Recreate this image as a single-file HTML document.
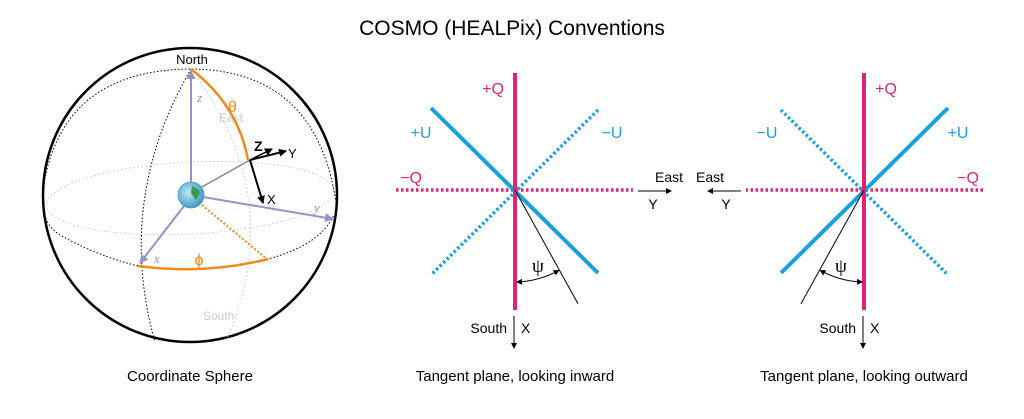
<!DOCTYPE html>
<html><head><meta charset="utf-8"><style>
body{margin:0;background:#fff;}
svg{display:block;font-family:"Liberation Sans",sans-serif;}
</style></head><body>
<svg width="1024" height="419" viewBox="0 0 1024 419">
<defs>
<marker id="ah" markerWidth="8" markerHeight="8" refX="7" refY="4" orient="auto" markerUnits="userSpaceOnUse"><path d="M0,0 L8,4 L0,8 z" fill="#000"/></marker>
<marker id="ahp" markerWidth="9" markerHeight="9" refX="8" refY="4.5" orient="auto" markerUnits="userSpaceOnUse"><path d="M0,0 L9,4.5 L0,9 z" fill="#9b8fc6"/></marker>
<marker id="ahs" markerWidth="6" markerHeight="6" refX="5" refY="3" orient="auto-start-reverse" markerUnits="userSpaceOnUse"><path d="M0,0 L6,3 L0,6 z" fill="#000"/></marker>
<radialGradient id="earth" cx="0.4" cy="0.4" r="0.7"><stop offset="0" stop-color="#bfe8f5"/><stop offset="1" stop-color="#2d8fc0"/></radialGradient>
</defs>
<text x="512" y="35" text-anchor="middle" font-size="21">COSMO (HEALPix) Conventions</text>

<g>
<circle cx="190" cy="195" r="147" fill="none" stroke="#000" stroke-width="2.5"/>
<ellipse cx="190" cy="198" rx="144" ry="36" fill="none" stroke="#bbb" stroke-width="0.8" stroke-dasharray="1.5,2.5" transform="rotate(-3 190 198)"/>
<path d="M191,69 Q115,200 155,342" fill="none" stroke="#000" stroke-width="1" stroke-dasharray="1.5,2"/>
<path d="M191,69 Q290,200 225,343" fill="none" stroke="#bbb" stroke-width="0.8" stroke-dasharray="1.5,2.5"/>
<path d="M43,190 Q60,70 191,69 Q320,70 337,210" fill="none" stroke="#000" stroke-width="1" stroke-dasharray="1.5,2"/>
<path d="M138,266 Q205,275 268,259 Q320,245 334,215" fill="none" stroke="#000" stroke-width="1" stroke-dasharray="1.5,2"/>
<path d="M138,266 Q95,255 60,235 Q44,225 43,205" fill="none" stroke="#000" stroke-width="1" stroke-dasharray="1.5,2"/>
<text x="192" y="64" text-anchor="middle" font-size="13">North</text>
<text x="219" y="122" font-size="12" fill="#ccc">East</text>
<text x="203" y="320" font-size="12" fill="#ccc">South</text>
<line x1="191" y1="185" x2="191" y2="71" stroke="#9b8fc6" stroke-width="2" marker-end="url(#ahp)"/>
<line x1="203" y1="197" x2="333" y2="219" stroke="#9b8fc6" stroke-width="2" marker-end="url(#ahp)"/>
<line x1="184" y1="206" x2="140" y2="263" stroke="#9b8fc6" stroke-width="2" marker-end="url(#ahp)"/>
<text x="197" y="102" font-size="13" font-style="italic" font-family="Liberation Serif,serif" fill="#9b8fc6">z</text>
<text x="314" y="212" font-size="13" font-style="italic" font-family="Liberation Serif,serif" fill="#9b8fc6">y</text>
<text x="154" y="263" font-size="13" font-style="italic" font-family="Liberation Serif,serif" fill="#9b8fc6">x</text>
<line x1="200" y1="188" x2="250" y2="160" stroke="#888" stroke-width="1.5"/>
<path d="M191,69 Q238,105 248,160" fill="none" stroke="#f08a1c" stroke-width="2.5"/>
<text x="228" y="112" font-size="16" fill="#f08a1c">θ</text>
<line x1="202" y1="205" x2="268" y2="260" stroke="#f08a1c" stroke-width="2" stroke-dasharray="2,2"/>
<path d="M138,266 Q205,275 268,259" fill="none" stroke="#f08a1c" stroke-width="2.5"/>
<text x="199" y="265" font-size="16" fill="#f08a1c" text-anchor="middle">ϕ</text>
<line x1="250" y1="160" x2="263" y2="203" stroke="#000" stroke-width="2" marker-end="url(#ah)"/>
<line x1="250" y1="160" x2="286" y2="151" stroke="#000" stroke-width="2" marker-end="url(#ah)"/>
<line x1="250" y1="160" x2="272" y2="149" stroke="#000" stroke-width="1.5" marker-end="url(#ah)"/>
<text x="254" y="151" font-size="14" font-weight="bold">Z</text>
<text x="288" y="158" font-size="13">Y</text>
<text x="267" y="204" font-size="13">X</text>
<circle cx="191" cy="195" r="13" fill="url(#earth)" stroke="#3aa0c8" stroke-width="0.8"/>
<path d="M192,186 q6,2 8,6 q-2,5 -4,8 q-3,-4 -5,-7 z" fill="#3a9a4a"/>
<text x="190" y="381" text-anchor="middle" font-size="15">Coordinate Sphere</text>
</g>

<g id="inward"></g>
<g id="outward"></g>
<text x="515" y="381" text-anchor="middle" font-size="15">Tangent plane, looking inward</text>
<text x="864" y="381" text-anchor="middle" font-size="15">Tangent plane, looking outward</text>
</svg>
<script>
const panelCenters = [515, 864];
const panelMirror = [1, -1];
const psiDeg = [29, 29];
const NS = "http://www.w3.org/2000/svg";
function mk(parent, tag, attrs, text){
  const e = document.createElementNS(NS, tag);
  for (const k in attrs) e.setAttribute(k, attrs[k]);
  if (text !== undefined) e.textContent = text;
  parent.appendChild(e); return e;
}
["inward","outward"].forEach((id, i) => {
  const g = document.getElementById(id);
  const cx = panelCenters[i], cy = 190, s = panelMirror[i];
  const X = dx => cx + s*dx;
  const MAG = "#e0237a", BLUE = "#19a0df";
  let e;
  e = mk(g,"line",{x1:X(-119),y1:cy,x2:X(118),y2:cy,stroke:MAG,"stroke-width":3.5,"stroke-dasharray":"2.5,2.5"});
   
  e = mk(g,"line",{x1:X(83),y1:cy-80,x2:X(-84),y2:cy+85,stroke:BLUE,"stroke-width":3.5,"stroke-dasharray":"2.5,2.5"});
   
  e = mk(g,"line",{x1:X(-84),y1:cy-82,x2:X(83),y2:cy+83,stroke:BLUE,"stroke-width":4});
   
  e = mk(g,"line",{x1:cx,y1:73,x2:cx,y2:310,stroke:MAG,"stroke-width":4});
   
  const a = psiDeg[i]*Math.PI/180, L = 130;
  e = mk(g,"line",{x1:cx,y1:cy,x2:X(L*Math.sin(a)),y2:cy+L*Math.cos(a),stroke:"#000","stroke-width":1});
   
  const r = 92;
  e = mk(g,"path",{d:`M${X(2)},${cy+r} A${r},${r} 0 0 ${s>0?0:1} ${X(r*Math.sin(a)-1)},${cy+r*Math.cos(a)}`,fill:"none",stroke:"#000","stroke-width":1,"marker-start":"url(#ahs)","marker-end":"url(#ahs)"});
   
  e = mk(g,"text",{x:X(23),y:cy+82,"font-size":19,"text-anchor":"middle","font-family":"Liberation Serif,serif"},"ψ");
   
  const lab = (x,y,t,c,n,anchor,fs) => { const el = mk(g,"text",{x:x,y:y,"font-size":fs||16,fill:c,"text-anchor":anchor||"middle"},t);
      };
  lab(X(-22),94,"+Q",MAG,"plus-q-label");
  lab(X(-94),138,"+U",BLUE,"plus-u-label");
  lab(X(97),138,"\u2212U",BLUE,"minus-u-label");
  lab(X(-104),183,"\u2212Q",MAG,"minus-q-label");
  lab(X(154),182,"East","#000","east-label","middle",14);
  lab(X(138),209,"Y","#000","y-label","middle",14);
  e = mk(g,"line",{x1:X(123),y1:191,x2:X(156),y2:191,stroke:"#000","stroke-width":1,"marker-end":"url(#ahs)"});
   
  e = mk(g,"line",{x1:cx-1,y1:316,x2:cx-1,y2:348,stroke:"#000","stroke-width":1,"marker-end":"url(#ahs)"});
   
  lab(cx-8,333,"South","#000","south-label","end",14);
  lab(cx+6,333,"X","#000","x-label","start",14);
});
</script>
</body></html>
